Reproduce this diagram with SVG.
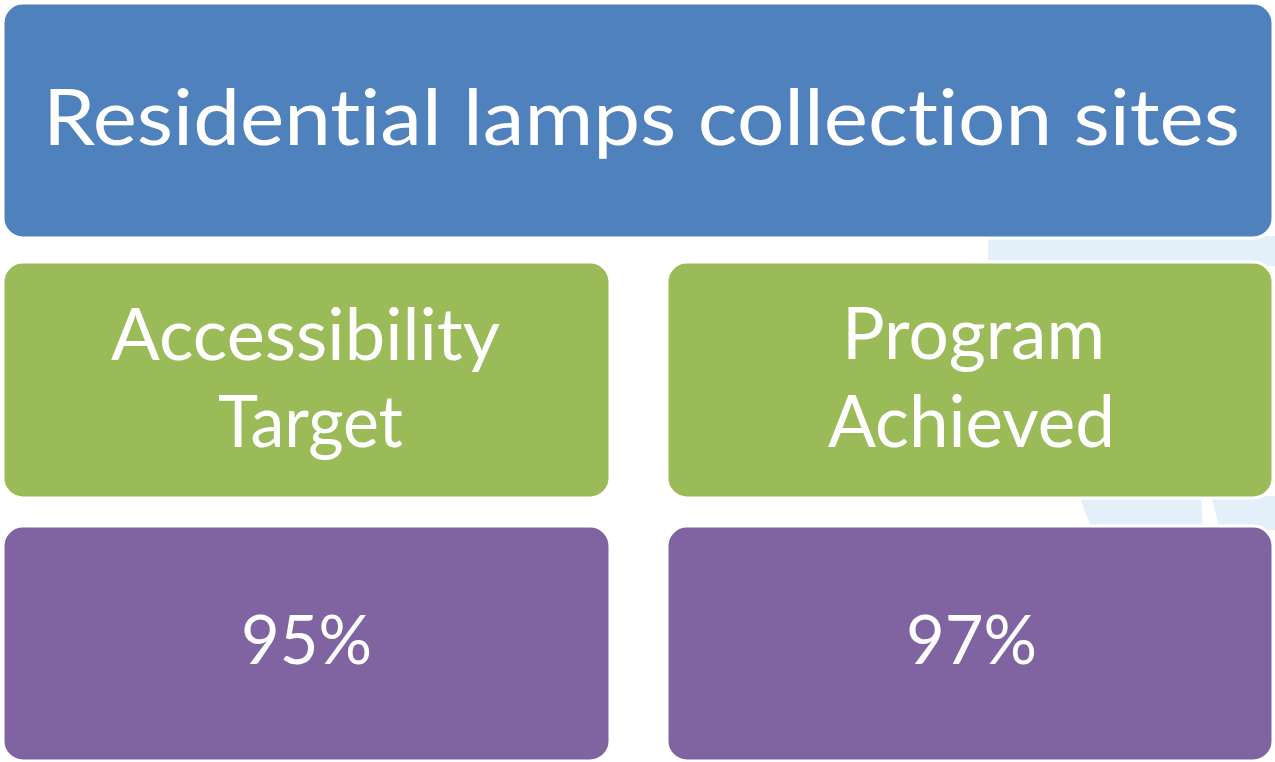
<svg xmlns="http://www.w3.org/2000/svg" width="1275" height="762" viewBox="0 0 1275 762">
<style>
.box{stroke:#ffffff;stroke-width:3}
.blue{fill:#4F81BD}
.green{fill:#9BBB59}
.purple{fill:#8064A2}
.bg{fill:#E4F0F9}
text{font-family:Lato,"Open Sans","Liberation Sans",sans-serif;fill:#ffffff;text-anchor:middle;font-variant-ligatures:none;font-feature-settings:"liga" 0,"dlig" 0,"clig" 0}
.t1{font-size:77px}
.t2{font-size:72px}
.t3{font-size:68px}
</style>
<rect x="0" y="0" width="1275" height="762" fill="#ffffff"/>
<g id="background">
<polygon class="bg" points="988,236 1275,236 1275,266 988,266"/>
<polygon class="bg" points="1079,496 1201,496 1203,530 1092,530"/>
<polygon class="bg" points="1211,496 1275,496 1275,530 1220,530"/>
</g>
<g id="node-title">
<rect class="box blue" x="3" y="3" width="1270" height="235" rx="20" ry="20"/>
<text class="t1" x="641.5" y="145" textLength="1197" lengthAdjust="spacingAndGlyphs">Residential lamps collection sites</text>
</g>
<g id="node-accessibility-target">
<rect class="box green" x="3" y="262" width="607" height="236" rx="20" ry="20"/>
<text class="t2" x="305.5" y="360" textLength="389" lengthAdjust="spacingAndGlyphs">Accessibility</text>
<text class="t2" x="310.5" y="447" textLength="185" lengthAdjust="spacingAndGlyphs">Target</text>
</g>
<g id="node-program-achieved">
<rect class="box green" x="667" y="262" width="606" height="236" rx="20" ry="20"/>
<text class="t2" x="973.5" y="359" textLength="263" lengthAdjust="spacingAndGlyphs">Program</text>
<text class="t2" x="971.5" y="447" textLength="287" lengthAdjust="spacingAndGlyphs">Achieved</text>
</g>
<g id="node-95">
<rect class="box purple" x="3" y="526" width="607" height="235" rx="20" ry="20"/>
<text class="t3" x="306.5" y="664" textLength="131" lengthAdjust="spacingAndGlyphs">95%</text>
</g>
<g id="node-97">
<rect class="box purple" x="667" y="526" width="606" height="235" rx="20" ry="20"/>
<text class="t3" x="971.5" y="664" textLength="131" lengthAdjust="spacingAndGlyphs">97%</text>
</g>
<g id="connectors"></g>
</svg>
